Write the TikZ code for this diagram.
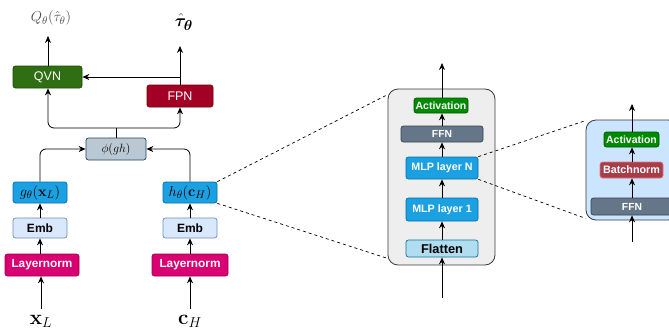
\documentclass[tikz,border=0pt]{standalone}
\usepackage[no-math]{fontspec}
\setsansfont{Liberation Sans}
\usepackage{amsmath,amssymb,bm}
\usetikzlibrary{arrows.meta,calc}
\definecolor{qvnc}{HTML}{2F6E12}
\definecolor{qvnd}{HTML}{1E4A08}
\definecolor{fpnc}{HTML}{A20025}
\definecolor{fpnd}{HTML}{6F0000}
\definecolor{phic}{HTML}{BAC8D3}
\definecolor{phid}{HTML}{23445D}
\definecolor{bluec}{HTML}{1BA1E2}
\definecolor{blued}{HTML}{006EAF}
\definecolor{embc}{HTML}{DAE8FC}
\definecolor{embd}{HTML}{6C8EBF}
\definecolor{lnc}{HTML}{D80073}
\definecolor{lnd}{HTML}{A50040}
\definecolor{panc}{HTML}{EEEEEE}
\definecolor{pand}{HTML}{36393D}
\definecolor{actc}{HTML}{008A00}
\definecolor{actd}{HTML}{005700}
\definecolor{ffnc}{HTML}{647687}
\definecolor{ffnd}{HTML}{314354}
\definecolor{flatc}{HTML}{B1DDF0}
\definecolor{flatd}{HTML}{10739E}
\definecolor{rpanc}{HTML}{CCE5FF}
\definecolor{bnc}{HTML}{A83C48}
\definecolor{bnd}{HTML}{E07A86}
\tikzset{
  box/.style={draw, rounded corners=2.5pt, line width=0.7pt, inner sep=0pt, font=\sffamily},
  arr/.style={-{Stealth[length=7pt,width=6pt]}, line width=0.8pt},
  pl/.style={line width=0.8pt},
  dline/.style={dashed, line width=0.7pt, dash pattern=on 3pt off 3pt},
  panelbox/.style={draw=pand, rounded corners=10pt, line width=0.8pt, inner sep=0pt},
}
\begin{document}
\begin{tikzpicture}[x=1pt,y=-1pt]
\useasboundingbox (0,0) rectangle (669,332);
\clip (0,0) rectangle (669,332);
% panels
\node[panelbox, fill=panc, minimum width=107, minimum height=176] (mid) at (441.5,177) {};
\node[panelbox, fill=rpanc, minimum width=92, minimum height=100] (rp) at (632,170) {};
% left column
\node[box, fill=qvnc, draw=qvnd, text=white, minimum width=69, minimum height=22, font=\sffamily\fontsize{12.5}{12.5}\selectfont] (qvn) at (47.5,77) {QVN};
\node[box, fill=fpnc, draw=fpnd, text=white, minimum width=66, minimum height=22, font=\sffamily\fontsize{12.5}{12.5}\selectfont] (fpn) at (180,96) {FPN};
\node[box, fill=phic, draw=phid, minimum width=60, minimum height=22, font=\fontsize{12.5}{12.5}\selectfont] (phi) at (116,149) {$\phi(gh)$};
\node[box, fill=bluec, draw=blued, minimum width=54, minimum height=21, font=\fontsize{15}{15}\selectfont] (g) at (40,192.5) {$g_\theta(\mathbf{x}_L)$};
\node[box, fill=bluec, draw=blued, minimum width=54, minimum height=21, font=\fontsize{15}{15}\selectfont] (h) at (190,192.5) {$h_\theta(\mathbf{c}_H)$};
\node[box, fill=embc, draw=embd, minimum width=54, minimum height=20, font=\sffamily\bfseries\fontsize{12}{12}\selectfont] (embL) at (40,228) {Emb};
\node[box, fill=embc, draw=embd, minimum width=54, minimum height=20, font=\sffamily\bfseries\fontsize{12}{12}\selectfont] (embR) at (190,228) {Emb};
\node[box, fill=lnc, draw=lnd, text=white, minimum width=74, minimum height=22, font=\sffamily\bfseries\fontsize{11.8}{11.8}\selectfont] (lnL) at (42,265) {Layernorm};
\node[box, fill=lnc, draw=lnd, text=white, minimum width=76, minimum height=22, font=\sffamily\bfseries\fontsize{11.8}{11.8}\selectfont] (lnR) at (190,265) {Layernorm};
\node[inner sep=1pt, font=\fontsize{22}{22}\selectfont] (xl) at (41,321) {$\mathbf{x}_L$};
\node[inner sep=1pt, font=\fontsize{22}{22}\selectfont] (ch) at (190,321) {$\mathbf{c}_H$};
\node[inner sep=1pt, text=black!70, font=\fontsize{15}{15}\selectfont] (qlab) at (51,18) {$Q_\theta(\hat{\tau}_\theta)$};
\node[inner sep=1pt, font=\fontsize{19}{19}\selectfont] (tau) at (184,22) {$\hat{\bm{\tau}}_{\bm{\theta}}$};
\coordinate (qtip) at (48,36);
\coordinate (ttip) at (180,46);
\coordinate (br) at (116,128);
\coordinate (xlb) at (41,309);
\coordinate (chb) at (190,309);
% connectors left
\draw[arr] (xlb) -- (xlb |- lnL.south);
\draw[arr] (chb) -- (lnR.south);
\draw[arr] (lnL.north -| embL) -- (embL.south);
\draw[arr] (lnR) -- (embR);
\draw[arr] (embL) -- (g);
\draw[arr] (embR) -- (h);
\draw[arr, rounded corners=6pt] (g.north) |- (phi.west);
\draw[arr, rounded corners=6pt] (h.north) |- (phi.east);
\draw[pl] (phi.north) -- (br);
\draw[arr, rounded corners=6pt] (br) -| (qvn.south -| qtip);
\draw[arr, rounded corners=6pt] (br) -| (fpn.south);
\draw[arr] (qvn.north -| qtip) -- (qtip);
\draw[arr] (fpn.north) -- (ttip);
\draw[arr] (fpn.north |- qvn.east) -- (qvn.east);
% middle panel contents
\node[box, fill=actc, draw=actd, text=white, minimum width=54, minimum height=15, font=\sffamily\bfseries\fontsize{10.5}{10.5}\selectfont] (act1) at (441,105.5) {Activation};
\node[box, fill=ffnc, draw=ffnd, text=white, minimum width=82, minimum height=16, font=\sffamily\bfseries\fontsize{10.3}{10.3}\selectfont] (ffn1) at (442,134) {FFN};
\node[box, fill=bluec, draw=blued, text=white, minimum width=72, minimum height=22, font=\sffamily\bfseries\fontsize{10.7}{10.7}\selectfont] (mlpn) at (442,168) {MLP layer N};
\node[box, fill=bluec, draw=blued, text=white, minimum width=72, minimum height=23, font=\sffamily\bfseries\fontsize{10.7}{10.7}\selectfont] (mlp1) at (442,209.5) {MLP layer 1};
\node[box, fill=flatc, draw=flatd, minimum width=72, minimum height=17, font=\sffamily\bfseries\fontsize{12.8}{12.8}\selectfont] (flat) at (442,248.5) {Flatten};
\coordinate (mb) at (442,298);
\coordinate (mt) at (442,63);
\draw[arr] (mb) -- (flat.south);
\draw[arr] (flat) -- (mlp1);
\draw[arr] (mlp1) -- (mlpn);
\draw[arr] (mlpn) -- (ffn1);
\draw[arr] (ffn1) -- (act1.south -| ffn1);
\draw[arr] (act1.north -| ffn1) -- (mt);
% dashed from h to mid panel
\draw[dline] (h.north east) -- ($(mid.north west)+(0,6)$);
\draw[dline] (h.south east) -- ($(mid.south west)+(0,-7)$);
% right panel contents
\node[box, fill=actc, draw=actd, text=white, minimum width=55, minimum height=15, font=\sffamily\bfseries\fontsize{10.5}{10.5}\selectfont] (act2) at (631.5,139.5) {Activation};
\node[box, fill=bnc, draw=bnd, text=white, minimum width=63, minimum height=16, font=\sffamily\bfseries\fontsize{10.8}{10.8}\selectfont] (bn) at (631.5,170) {Batchnorm};
\node[box, fill=ffnc, draw=ffnd, text=white, minimum width=82, minimum height=17, font=\sffamily\bfseries\fontsize{10.3}{10.3}\selectfont] (ffn2) at (632,206.5) {FFN};
\coordinate (rb) at (632,242);
\coordinate (rt) at (632,104);
\draw[arr] (rb) -- (ffn2.south);
\draw[arr] (ffn2) -- (bn.south -| ffn2);
\draw[arr] (bn.north -| ffn2) -- (act2.south -| ffn2);
\draw[arr] (act2.north -| ffn2) -- (rt);
% dashed from MLP N to right panel
\draw[dline] (mlpn.north east) -- ($(rp.north west)+(0,1)$);
\draw[dline] (mlpn.south east) -- ($(rp.south west)+(0,-2)$);
\end{tikzpicture}
\end{document}
